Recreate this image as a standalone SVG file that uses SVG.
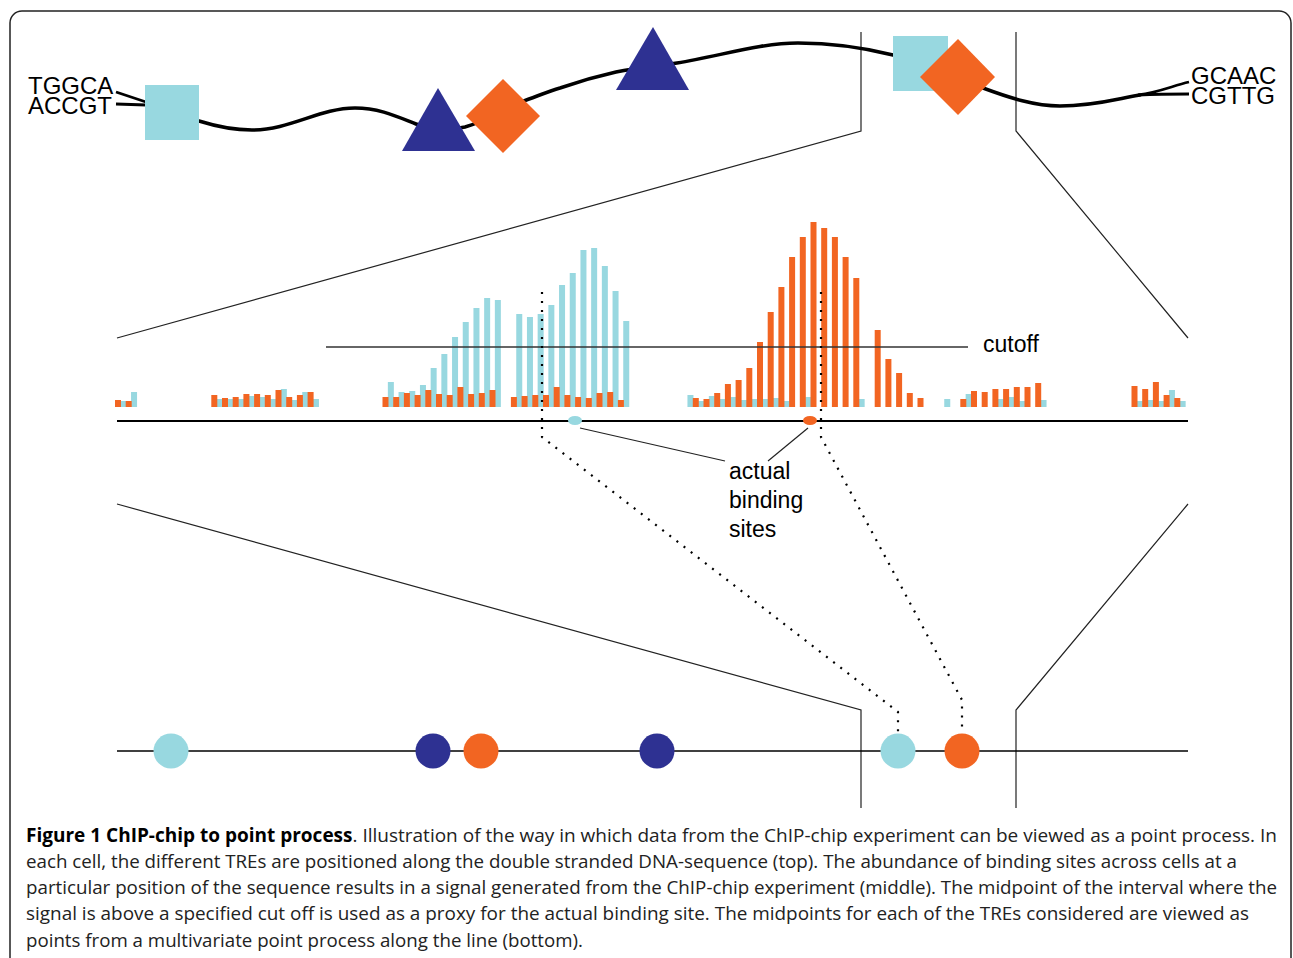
<svg xmlns="http://www.w3.org/2000/svg" width="1293" height="958" viewBox="0 0 1293 958">
<style>
.lbl{font-family:"Liberation Sans",Arial,sans-serif;font-size:24px;fill:#000}
.lbl2{font-family:"Liberation Sans",Arial,sans-serif;font-size:23px;fill:#000}
.cap{font-family:"Open Sans","Noto Sans",sans-serif;font-size:19px;fill:#222}
.cy{fill:#98d8e0}
.or{fill:#f26522}
.nv{fill:#2e3192}
.thin{fill:none;stroke:#222;stroke-width:1.2}
.dna{fill:none;stroke:#000;stroke-width:3.5;stroke-linecap:round}
.dot{fill:none;stroke:#000;stroke-width:2.2;stroke-dasharray:2 7}
</style>
<rect x="10" y="11" width="1281" height="960" rx="12" fill="#fff" stroke="#222" stroke-width="1.5"/>

<g id="connectors">
  <!-- zoom outlines -->
  <polyline class="thin" points="861,32 861,131 117,338"/>
  <polyline class="thin" points="1016,32 1016,131 1188,338"/>
  <polyline class="thin" points="117,504 861,710 861,808"/>
  <polyline class="thin" points="1188,504 1016,710 1016,808"/>
  <!-- axes -->
  <line x1="117" y1="421" x2="1188" y2="421" stroke="#000" stroke-width="2"/>
  <line x1="117" y1="751" x2="1188" y2="751" stroke="#000" stroke-width="1.5"/>
  <!-- binding label leaders -->
  <line x1="580" y1="428" x2="725" y2="461" stroke="#222" stroke-width="1.2"/>
  <line x1="808" y1="428" x2="768" y2="461" stroke="#222" stroke-width="1.2"/>
</g>

<g id="dna">
  <path class="dna" d="M199,121 C215,126 232,130 252,130 C290,130 320,108 355,108 C380,108 398,117 416,124 C432,130 448,131 465,127 C490,120 510,106 529,99 C540,95 550,91 560,88 C580,81 598,76 616,72 C636,68 656,66 677,63 C720,56 760,43 798,43 C835,43 865,48 893,55 C930,64 955,78 983,88 C1010,98 1035,106 1060,106 C1095,106 1120,98 1140,95"/>
  <path fill="none" stroke="#000" stroke-width="2.8" d="M1138,95 C1160,92 1172,86 1189,82 M1138,95 C1160,94 1172,94 1189,94"/>
  <path fill="none" stroke="#000" stroke-width="2.8" d="M116,92 L146,102 M116,104 L146,105"/>
  <text class="lbl" x="28" y="94">TGGCA</text>
  <text class="lbl" x="28" y="114">ACCGT</text>
  <text class="lbl" x="1191" y="84">GCAAC</text>
  <text class="lbl" x="1191" y="104">CGTTG</text>
</g>

<g id="tre-square-1"><rect class="cy" x="145" y="85" width="54" height="55"/></g>
<g id="tre-triangle-1"><polygon class="nv" points="438,88 475,151 402,151"/></g>
<g id="tre-diamond-1"><polygon class="or" points="503,79 540,116 503,153 466,116"/></g>
<g id="tre-triangle-2"><polygon class="nv" points="653,27 689,90 616,90"/></g>
<g id="tre-square-2"><rect class="cy" x="893" y="36" width="55" height="55"/></g>
<g id="tre-diamond-2"><polygon class="or" points="958,39 995,77 958,115 920,77"/></g>

<g id="signal-cyan" class="cy">
<rect x="120.35" y="401" width="6" height="6"/>
<rect x="131.05" y="392" width="6" height="15"/>
<rect x="216.65" y="399" width="6" height="8"/>
<rect x="227.35" y="399" width="6" height="8"/>
<rect x="238.05" y="399" width="6" height="8"/>
<rect x="248.75" y="396" width="6" height="11"/>
<rect x="259.45" y="397" width="6" height="10"/>
<rect x="270.15" y="399" width="6" height="8"/>
<rect x="280.85" y="389" width="6" height="18"/>
<rect x="291.55" y="400" width="6" height="7"/>
<rect x="302.25" y="392" width="6" height="15"/>
<rect x="312.95" y="399" width="6" height="8"/>
<rect x="387.85" y="382" width="6" height="25"/>
<rect x="398.55" y="392" width="6" height="15"/>
<rect x="409.25" y="391" width="6" height="16"/>
<rect x="419.95" y="385" width="6" height="22"/>
<rect x="430.65" y="368" width="6" height="39"/>
<rect x="441.35" y="354" width="6" height="53"/>
<rect x="452.05" y="337" width="6" height="70"/>
<rect x="462.75" y="322" width="6" height="85"/>
<rect x="473.45" y="308" width="6" height="99"/>
<rect x="484.15" y="298" width="6" height="109"/>
<rect x="494.85" y="300" width="6" height="107"/>
<rect x="516.25" y="314" width="6" height="93"/>
<rect x="526.95" y="317" width="6" height="90"/>
<rect x="537.65" y="314" width="6" height="93"/>
<rect x="548.35" y="305" width="6" height="102"/>
<rect x="559.05" y="285" width="6" height="122"/>
<rect x="569.75" y="273" width="6" height="134"/>
<rect x="580.45" y="250" width="6" height="157"/>
<rect x="591.15" y="248" width="6" height="159"/>
<rect x="601.85" y="266" width="6" height="141"/>
<rect x="612.55" y="291" width="6" height="116"/>
<rect x="623.25" y="321" width="6" height="86"/>
<rect x="687.45" y="395" width="6" height="12"/>
<rect x="698.15" y="401" width="6" height="6"/>
<rect x="708.85" y="396" width="6" height="11"/>
<rect x="719.55" y="399" width="6" height="8"/>
<rect x="730.25" y="397" width="6" height="10"/>
<rect x="740.95" y="400" width="6" height="7"/>
<rect x="751.65" y="399" width="6" height="8"/>
<rect x="762.35" y="399" width="6" height="8"/>
<rect x="773.05" y="398" width="6" height="9"/>
<rect x="783.75" y="401" width="6" height="6"/>
<rect x="805.15" y="397" width="6" height="10"/>
<rect x="858.65" y="399" width="6" height="8"/>
<rect x="944.25" y="399" width="6" height="8"/>
<rect x="965.65" y="394" width="6" height="13"/>
<rect x="997.75" y="399" width="6" height="8"/>
<rect x="1008.45" y="397" width="6" height="10"/>
<rect x="1019.15" y="401" width="6" height="6"/>
<rect x="1040.55" y="400" width="6" height="7"/>
<rect x="1136.85" y="401" width="6" height="6"/>
<rect x="1147.55" y="400" width="6" height="7"/>
<rect x="1158.25" y="401" width="6" height="6"/>
<rect x="1168.95" y="390" width="6" height="17"/>
<rect x="1179.65" y="401" width="6" height="6"/>
</g>

<g id="signal-orange" class="or">
<rect x="115" y="400" width="6" height="7"/>
<rect x="125.7" y="401" width="6" height="6"/>
<rect x="211.3" y="395" width="6" height="12"/>
<rect x="222" y="398" width="6" height="9"/>
<rect x="232.7" y="397" width="6" height="10"/>
<rect x="243.4" y="394" width="6" height="13"/>
<rect x="254.1" y="394" width="6" height="13"/>
<rect x="264.8" y="395" width="6" height="12"/>
<rect x="275.5" y="390" width="6" height="17"/>
<rect x="286.2" y="397" width="6" height="10"/>
<rect x="296.9" y="395" width="6" height="12"/>
<rect x="307.6" y="392" width="6" height="15"/>
<rect x="382.5" y="397" width="6" height="10"/>
<rect x="393.2" y="397" width="6" height="10"/>
<rect x="403.9" y="393" width="6" height="14"/>
<rect x="414.6" y="395" width="6" height="12"/>
<rect x="425.3" y="390" width="6" height="17"/>
<rect x="436" y="394" width="6" height="13"/>
<rect x="446.7" y="395" width="6" height="12"/>
<rect x="457.4" y="387" width="6" height="20"/>
<rect x="468.1" y="394" width="6" height="13"/>
<rect x="478.8" y="393" width="6" height="14"/>
<rect x="489.5" y="390" width="6" height="17"/>
<rect x="510.9" y="397" width="6" height="10"/>
<rect x="521.6" y="396" width="6" height="11"/>
<rect x="532.3" y="395" width="6" height="12"/>
<rect x="543" y="395" width="6" height="12"/>
<rect x="553.7" y="387" width="6" height="20"/>
<rect x="564.4" y="395" width="6" height="12"/>
<rect x="575.1" y="397" width="6" height="10"/>
<rect x="585.8" y="398" width="6" height="9"/>
<rect x="596.5" y="393" width="6" height="14"/>
<rect x="607.2" y="392" width="6" height="15"/>
<rect x="617.9" y="400" width="6" height="7"/>
<rect x="692.8" y="398" width="6" height="9"/>
<rect x="703.5" y="399" width="6" height="8"/>
<rect x="714.2" y="393" width="6" height="14"/>
<rect x="724.9" y="384" width="6" height="23"/>
<rect x="735.6" y="380" width="6" height="27"/>
<rect x="746.3" y="368" width="6" height="39"/>
<rect x="757" y="342" width="6" height="65"/>
<rect x="767.7" y="312" width="6" height="95"/>
<rect x="778.4" y="287" width="6" height="120"/>
<rect x="789.1" y="257" width="6" height="150"/>
<rect x="799.8" y="237" width="6" height="170"/>
<rect x="810.5" y="222" width="6" height="185"/>
<rect x="821.2" y="228" width="6" height="179"/>
<rect x="831.9" y="237" width="6" height="170"/>
<rect x="842.6" y="257" width="6" height="150"/>
<rect x="853.3" y="278" width="6" height="129"/>
<rect x="874.7" y="330" width="6" height="77"/>
<rect x="885.4" y="359" width="6" height="48"/>
<rect x="896.1" y="373" width="6" height="34"/>
<rect x="906.8" y="393" width="6" height="14"/>
<rect x="917.5" y="398" width="6" height="9"/>
<rect x="960.3" y="399" width="6" height="8"/>
<rect x="971" y="391" width="6" height="16"/>
<rect x="981.7" y="392" width="6" height="15"/>
<rect x="992.4" y="389" width="6" height="18"/>
<rect x="1003.1" y="389" width="6" height="18"/>
<rect x="1013.8" y="387" width="6" height="20"/>
<rect x="1024.5" y="387" width="6" height="20"/>
<rect x="1035.2" y="383" width="6" height="24"/>
<rect x="1131.5" y="386" width="6" height="21"/>
<rect x="1142.2" y="389" width="6" height="18"/>
<rect x="1152.9" y="382" width="6" height="25"/>
<rect x="1163.6" y="395" width="6" height="12"/>
<rect x="1174.3" y="398" width="6" height="9"/>
</g>

<g id="cutoff">
  <line x1="326" y1="347" x2="968" y2="347" stroke="#333" stroke-width="1.3"/>
  <text class="lbl2" x="983" y="352">cutoff</text>
</g>

<g id="midpoint-links">
  <path class="dot" d="M542,292 L542,437 L898,712 L898,733"/>
  <path class="dot" d="M821,292 L821,437 L962,700 L962,733"/>
</g>

<g id="binding-site-cyan"><ellipse class="cy" cx="575" cy="420.5" rx="7" ry="4.5"/></g>
<g id="binding-site-orange"><ellipse class="or" cx="810" cy="420.5" rx="7" ry="4.5"/></g>
<g id="binding-label">
  <text class="lbl2" x="729" y="479">actual</text>
  <text class="lbl2" x="729" y="508">binding</text>
  <text class="lbl2" x="729" y="537">sites</text>
</g>

<g id="point-1"><circle class="cy" cx="171" cy="751" r="17.5"/></g>
<g id="point-2"><circle class="nv" cx="433" cy="751" r="17.5"/></g>
<g id="point-3"><circle class="or" cx="481" cy="751" r="17.5"/></g>
<g id="point-4"><circle class="nv" cx="657" cy="751" r="17.5"/></g>
<g id="point-5"><circle class="cy" cx="898" cy="751" r="17.5"/></g>
<g id="point-6"><circle class="or" cx="962" cy="751" r="17.5"/></g>

<g id="caption">
  <text class="cap" x="26" y="842" textLength="1251" lengthAdjust="spacingAndGlyphs"><tspan font-weight="bold" fill="#000">Figure 1 ChIP-chip to point process</tspan>. Illustration of the way in which data from the ChIP-chip experiment can be viewed as a point process. In</text>
  <text class="cap" x="26" y="868" textLength="1211" lengthAdjust="spacingAndGlyphs">each cell, the different TREs are positioned along the double stranded DNA-sequence (top). The abundance of binding sites across cells at a</text>
  <text class="cap" x="26" y="894" textLength="1251" lengthAdjust="spacingAndGlyphs">particular position of the sequence results in a signal generated from the ChIP-chip experiment (middle). The midpoint of the interval where the</text>
  <text class="cap" x="26" y="920" textLength="1223" lengthAdjust="spacingAndGlyphs">signal is above a specified cut off is used as a proxy for the actual binding site. The midpoints for each of the TREs considered are viewed as</text>
  <text class="cap" x="26" y="947" textLength="557" lengthAdjust="spacingAndGlyphs">points from a multivariate point process along the line (bottom).</text>
</g>
</svg>
